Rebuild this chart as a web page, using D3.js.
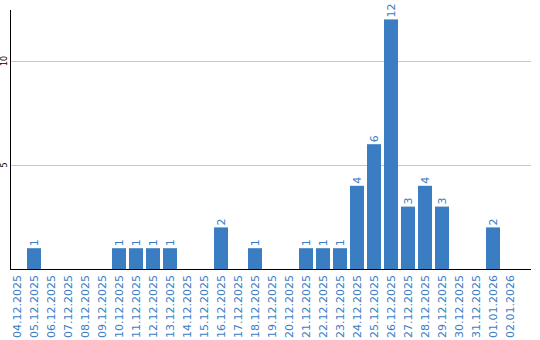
<!DOCTYPE html>
<html>
<head>
<meta charset="utf-8">
<script src="https://cdn.jsdelivr.net/npm/d3@7"></script>
<style>
  body { margin: 0; background: #fff; }
  svg { display: block; font-family: "DejaVu Sans", sans-serif; }
</style>
</head>
<body>
<div id="chart"></div>
<script>
const dates = [
  '04.12.2025', '05.12.2025', '06.12.2025', '07.12.2025', '08.12.2025',
  '09.12.2025', '10.12.2025', '11.12.2025', '12.12.2025', '13.12.2025',
  '14.12.2025', '15.12.2025', '16.12.2025', '17.12.2025', '18.12.2025',
  '19.12.2025', '20.12.2025', '21.12.2025', '22.12.2025', '23.12.2025',
  '24.12.2025', '25.12.2025', '26.12.2025', '27.12.2025', '28.12.2025',
  '29.12.2025', '30.12.2025', '31.12.2025', '01.01.2026', '02.01.2026'
];
const counts = [
  0, 1, 0, 0, 0,
  0, 1, 1, 1, 1,
  0, 0, 2, 0, 1,
  0, 0, 1, 1, 1,
  4, 6, 12, 3, 4,
  3, 0, 0, 2, 0
];
const yTicks = [5, 10];

const width = 540, height = 340;
const blue = '#3b7dc3';

const svg = d3.select('#chart')
  .append('svg')
  .attr('width', width)
  .attr('height', height);

const x = d3.scaleBand()
  .domain(dates)
  .range([8.5, 518.5])
  .paddingInner(3 / 17)
  .paddingOuter(1.5 / 17);

const y = d3.scaleLinear()
  .domain([0, 12.5])
  .range([269, 9]);

// gridlines
svg.selectAll('.grid')
  .data(yTicks)
  .join('line')
  .attr('class', 'grid')
  .attr('x1', 10)
  .attr('x2', 531)
  .attr('y1', d => Math.round(y(d)) + 0.5)
  .attr('y2', d => Math.round(y(d)) + 0.5)
  .attr('stroke', '#c8c8c8');

// y tick labels
svg.selectAll('.ytick')
  .data(yTicks)
  .join('text')
  .attr('class', 'ytick')
  .attr('transform', d => `translate(7,${y(d)}) rotate(-90)`)
  .attr('text-anchor', 'middle')
  .attr('font-size', 8)
  .attr('fill', '#000')
  .text(d => d);

const data = dates.map((d, i) => ({ date: d, value: counts[i] }));

// bars
svg.selectAll('.bar')
  .data(data.filter(d => d.value > 0))
  .join('rect')
  .attr('class', 'bar')
  .attr('x', d => x(d.date))
  .attr('width', x.bandwidth())
  .attr('y', d => y(d.value))
  .attr('height', d => y(0) - y(d.value))
  .attr('fill', blue);

// value labels
svg.selectAll('.val')
  .data(data.filter(d => d.value > 0))
  .join('text')
  .attr('class', 'val')
  .attr('transform', d => `translate(${x(d.date) + x.bandwidth() / 2 + 4},${y(d.value) - 2}) rotate(-90)`)
  .attr('font-size', 11)
  .attr('fill', blue)
  .text(d => d.value);

// axes lines
svg.append('line')
  .attr('x1', 10.5).attr('x2', 10.5)
  .attr('y1', 10).attr('y2', 270)
  .attr('stroke', '#000');
svg.append('line')
  .attr('x1', 10).attr('x2', 531)
  .attr('y1', 269.5).attr('y2', 269.5)
  .attr('stroke', '#000');

// x labels
svg.selectAll('.xlab')
  .data(dates)
  .join('text')
  .attr('class', 'xlab')
  .attr('transform', d => `translate(${x(d) + x.bandwidth() / 2 + 4},275) rotate(-90)`)
  .attr('text-anchor', 'end')
  .attr('font-size', 11)
  .attr('fill', blue)
  .text(d => d);
</script>
</body>
</html>
